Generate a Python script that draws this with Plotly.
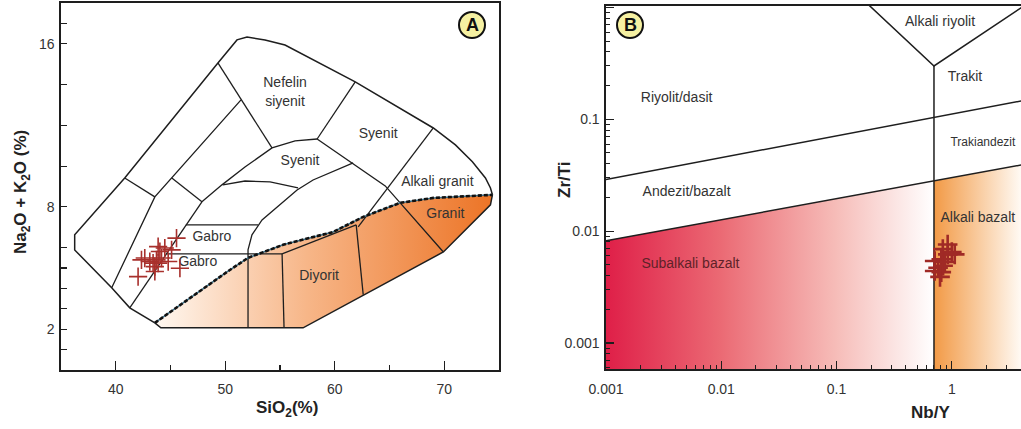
import plotly.graph_objects as go

# ================= Panel A : TAS diagram (SiO2 %, Na2O+K2O %) =================
outer_si  = [49.33, 51.07, 51.99, 53.63, 55.46, 61.87, 69.00, 71.02, 72.57, 73.76, 74.22, 74.40, 74.22, 69.92, 57.11, 44.12, 43.57, 41.28, 39.63, 36.25, 36.25, 40.82, 49.33]
outer_alk = [15.06, 16.19, 16.33, 16.19, 15.94, 14.13, 11.87, 11.04, 10.21, 9.42, 8.93, 8.59, 8.10, 5.79, 2.07, 2.07, 2.31, 3.05, 4.03, 5.89, 6.63, 9.42, 15.06]

# alkaline / subalkaline divide (dashed)
divide_si  = [43.57, 46.50, 50.16, 52.08, 55.28, 59.85, 62.60, 65.98, 69.00, 74.40]
divide_alk = [2.31, 3.44, 4.81, 5.50, 6.14, 6.77, 7.51, 8.20, 8.44, 8.59]

# shaded subalkaline field outline (below divide)
sub_si  = divide_si + [74.22, 69.92, 57.11, 44.12, 43.57]
sub_alk = divide_alk + [8.10, 5.79, 2.07, 2.07, 2.31]

# inner field boundaries
b1_si, b1_alk = [40.82, 43.57], [9.42, 8.49]
b2_si, b2_alk = [51.44, 43.57, 39.63], [13.25, 8.49, 4.03]
b3_si, b3_alk = [45.12, 47.87], [9.42, 8.25]
b4_si, b4_alk = [47.87, 41.28], [8.25, 3.05]
b5_si, b5_alk = [49.33, 54.27], [15.06, 10.89]
b6_si, b6_alk = [47.87, 49.70, 51.80, 54.27, 56.38, 58.39], [8.25, 9.08, 9.96, 10.89, 11.24, 11.33]
b7_si, b7_alk = [49.79, 51.80, 54.09, 56.65], [9.08, 9.27, 9.23, 8.93]
b8_si, b8_alk = [58.39, 61.87], [11.33, 14.13]
b9_si, b9_alk = [69.00, 62.14], [11.87, 7.02]
b10_si, b10_alk = [58.39, 64.61, 69.92], [11.33, 9.03, 5.79]
b11_si = [61.68, 58.02, 56.56, 55.00, 53.36, 52.44, 52.08, 52.08]
b11_alk = [10.16, 9.32, 8.83, 8.10, 7.36, 6.63, 5.89, 2.07]
b12_si, b12_alk = [46.40, 52.99], [7.12, 7.12]
b13_si, b13_alk = [44.67, 55.19], [5.70, 5.70]
b14_si, b14_alk = [55.19, 55.37], [5.70, 2.07]
b15_si, b15_alk = [55.19, 61.96], [5.70, 7.12]
b16_si, b16_alk = [61.96, 62.60], [7.12, 3.69]

fieldA_names = ["Nefelin<br>siyenit", "Syenit", "Syenit", "Alkali granit", "Granit", "Diyorit", "Gabro", "Gabro"]
fieldA_si    = [55.46, 63.97, 56.83, 69.37, 70.10, 58.57, 48.78, 47.50]
fieldA_alk   = [13.59, 11.53, 10.21, 9.18, 7.61, 4.57, 6.48, 5.25]

sampleA_si  = [45.55, 43.87, 44.48, 45.10, 44.03, 44.18, 42.65, 42.35, 43.11, 43.72, 43.41, 43.87, 43.57, 43.57, 44.79, 45.86, 42.04]
sampleA_alk = [6.47, 6.05, 5.98, 5.89, 5.81, 5.49, 5.49, 5.40, 5.32, 5.40, 5.24, 5.24, 5.07, 4.83, 5.32, 4.99, 4.58]

A_yticks_major = [2, 8, 16]
A_yticks_minor = [1, 3, 4, 5, 6, 10, 12, 14, 17]
A_xticks_major = [40, 50, 60, 70]
A_xticks_minor = [45, 55, 65]

# ================= Panel B : Zr/Ti vs Nb/Y =================
lineB1_x, lineB1_y = [0.001, 4.0], [0.029, 0.146]
lineB2_x, lineB2_y = [0.001, 0.7, 4.0], [0.0082, 0.028, 0.039]
vertB_x, vertB_y = [0.7, 0.7], [0.0005, 0.3]
vB_x, vB_y = [0.18, 0.7, 4.5], [1.11, 0.3, 1.08]
subalk_x, subalk_y = [0.001, 0.001, 0.7, 0.7], [0.0005, 0.0082, 0.028, 0.0005]
alkbas_x, alkbas_y = [0.7, 0.7, 4.0, 4.0], [0.0005, 0.028, 0.039, 0.0005]

fieldB_names = ["Alkali riyolit", "Trakit", "Riyolit/dasit", "Andezit/bazalt", "Alkali bazalt"]
fieldB_x     = [0.79, 1.30, 0.0041, 0.0050, 1.68]
fieldB_y     = [0.73, 0.234, 0.155, 0.0223, 0.013]

sampleB_nby  = [0.835, 0.923, 1.0, 0.81, 0.71, 0.76, 0.71, 0.81, 0.79, 0.84, 0.87, 1.06, 0.92]
sampleB_zrti = [0.0069, 0.0062, 0.0065, 0.0056, 0.0054, 0.0047, 0.0044, 0.0043, 0.0039, 0.0049, 0.0053, 0.0062, 0.0076]

B_ticks = [0.001, 0.01, 0.1, 1]
B_ticklabels = ["0.001", "0.01", "0.1", "1"]
B_minor = [m * 10 ** e for e in range(-4, 1) for m in range(2, 10)]

FONT = "Arial, Liberation Sans, sans-serif"
TXT = "#333333"
LINE = "#1e1e1e"

W, H = 1021, 429
def px(xp):
    return xp / W
def py(yp):
    return (H - yp) / H

fig = go.Figure()

def add_line(x, y, xa="x", ya="y", w=1.4, color=LINE, dash=None):
    fig.add_trace(go.Scatter(x=x, y=y, xaxis=xa, yaxis=ya, mode="lines",
                             line=dict(color=color, width=w, dash=dash),
                             hoverinfo="skip", showlegend=False))

# ---- Panel A ----
fig.add_trace(go.Scatter(x=sub_si, y=sub_alk, xaxis="x", yaxis="y", mode="lines", fill="toself",
                         line=dict(width=0, color="rgba(0,0,0,0)"),
                         fillgradient=dict(type="horizontal",
                                           colorscale=[[0, "#fff8f1"], [0.45, "#f7b688"], [1, "#ec7426"]]),
                         hoverinfo="skip", showlegend=False))
for xs, ys in [(b1_si, b1_alk), (b2_si, b2_alk), (b3_si, b3_alk), (b4_si, b4_alk), (b5_si, b5_alk),
               (b6_si, b6_alk), (b7_si, b7_alk), (b8_si, b8_alk), (b9_si, b9_alk), (b10_si, b10_alk),
               (b11_si, b11_alk), (b12_si, b12_alk), (b13_si, b13_alk), (b14_si, b14_alk),
               (b15_si, b15_alk), (b16_si, b16_alk)]:
    add_line(xs, ys, w=1.3)
add_line(outer_si, outer_alk, w=1.5)
add_line(divide_si, divide_alk, w=1.5, color="#3c7088")
add_line(divide_si, divide_alk, w=2.6, color="#111111", dash="4px,2px")

fig.add_trace(go.Scatter(x=fieldA_si, y=fieldA_alk, xaxis="x", yaxis="y", mode="text",
                         text=fieldA_names, textfont=dict(family=FONT, size=14, color=TXT),
                         hoverinfo="skip", showlegend=False))
fig.add_trace(go.Scatter(x=sampleA_si, y=sampleA_alk, xaxis="x", yaxis="y", mode="markers",
                         marker=dict(symbol="cross-thin", size=13, line=dict(width=1.6, color="#a8302c")),
                         hoverinfo="skip", showlegend=False))

# ---- Panel B ----
fig.add_trace(go.Scatter(x=subalk_x, y=subalk_y, xaxis="x2", yaxis="y2", mode="lines", fill="toself",
                         line=dict(width=0, color="rgba(0,0,0,0)"),
                         fillgradient=dict(type="horizontal",
                                           colorscale=[[0, "#df1f48"], [0.35, "#eb6a74"], [0.7, "#f6bcb8"], [1, "#ffffff"]]),
                         hoverinfo="skip", showlegend=False))
fig.add_trace(go.Scatter(x=alkbas_x, y=alkbas_y, xaxis="x2", yaxis="y2", mode="lines", fill="toself",
                         line=dict(width=0, color="rgba(0,0,0,0)"),
                         fillgradient=dict(type="horizontal",
                                           colorscale=[[0, "#f29a46"], [1, "#fffaf4"]]),
                         hoverinfo="skip", showlegend=False))
add_line(lineB1_x, lineB1_y, "x2", "y2", w=1.5)
add_line(lineB2_x, lineB2_y, "x2", "y2", w=1.5)
add_line(vertB_x, vertB_y, "x2", "y2", w=1.5)
add_line(vB_x, vB_y, "x2", "y2", w=1.5)

fig.add_trace(go.Scatter(x=fieldB_x, y=fieldB_y, xaxis="x2", yaxis="y2", mode="text",
                         text=fieldB_names, textfont=dict(family=FONT, size=14, color=TXT),
                         hoverinfo="skip", showlegend=False))
fig.add_trace(go.Scatter(x=[1.86], y=[0.061], xaxis="x2", yaxis="y2", mode="text",
                         text=["Trakiandezit"], textfont=dict(family=FONT, size=12, color=TXT),
                         hoverinfo="skip", showlegend=False))
fig.add_trace(go.Scatter(x=[0.0054], y=[0.00506], xaxis="x2", yaxis="y2", mode="text",
                         text=["Subalkali bazalt"], textfont=dict(family=FONT, size=14, color="#5e2228"),
                         hoverinfo="skip", showlegend=False))
fig.add_trace(go.Scatter(x=sampleB_nby, y=sampleB_zrti, xaxis="x2", yaxis="y2", mode="markers",
                         marker=dict(symbol="cross-thin", size=14, line=dict(width=2.6, color="#a02a26")),
                         hoverinfo="skip", showlegend=False))

axfont = dict(family=FONT, size=14, color=TXT)
fig.update_layout(
    width=W, height=H, margin=dict(l=0, r=0, t=0, b=0, autoexpand=False),
    paper_bgcolor="white", plot_bgcolor="rgba(0,0,0,0)", showlegend=False,
    xaxis=dict(domain=[px(61), px(499)], range=[35, 75], showgrid=False, zeroline=False, automargin=False,
               showline=True, mirror=True, linecolor=LINE, linewidth=1.6,
               tickmode="array", tickvals=A_xticks_major, ticks="inside", ticklen=9, tickwidth=1.2,
               tickcolor=LINE, tickfont=axfont, ticklabelstandoff=6,
               minor=dict(tickmode="array", tickvals=A_xticks_minor, ticks="inside", ticklen=5,
                          tickwidth=1.2, tickcolor=LINE)),
    yaxis=dict(domain=[py(370), py(3)], range=[0, 18], showgrid=False, zeroline=False, automargin=False,
               showline=True, mirror=True, linecolor=LINE, linewidth=1.6,
               tickmode="array", tickvals=A_yticks_major, ticks="inside", ticklen=6, tickwidth=1.2,
               tickcolor=LINE, tickfont=axfont, ticklabelstandoff=2,
               minor=dict(tickmode="array", tickvals=A_yticks_minor, ticks="inside", ticklen=6,
                          tickwidth=1.2, tickcolor=LINE)),
    xaxis2=dict(domain=[px(606), 1.0], type="log", range=[-3, 0.6], anchor="y2", automargin=False,
                showgrid=False, zeroline=False, showline=True, mirror=True, linecolor=LINE, linewidth=1.6,
                tickmode="array", tickvals=B_ticks, ticktext=B_ticklabels, ticks="inside", ticklen=8,
                tickwidth=1.2, tickcolor=LINE, tickfont=axfont, ticklabelstandoff=7,
                minor=dict(tickmode="array", tickvals=B_minor, ticks="inside", ticklen=4,
                           tickwidth=1, tickcolor=LINE)),
    yaxis2=dict(domain=[py(369), py(6)], type="log", range=[-3.233, 0.013], anchor="x2", automargin=False,
                showgrid=False, zeroline=False, showline=True, mirror=False, linecolor=LINE, linewidth=1.6,
                tickmode="array", tickvals=B_ticks, ticktext=B_ticklabels, ticks="inside", ticklen=8,
                tickwidth=1.2, tickcolor=LINE, tickfont=axfont, ticklabelstandoff=2,
                minor=dict(tickmode="array", tickvals=B_minor, ticks="inside", ticklen=4,
                           tickwidth=1, tickcolor=LINE)),
)

title_font = dict(family=FONT, size=17, color="#222222")
def add_title(xp, yp, text, angle=0):
    fig.add_annotation(x=px(xp), y=py(yp), xref="paper", yref="paper", showarrow=False,
                       xanchor="center", yanchor="middle", text=text, textangle=angle, font=title_font)

add_title(22, 192, "<b>Na<sub>2</sub>O + K<sub>2</sub>O (%)</b>", -90)
add_title(287, 409, "<b>SiO<sub>2</sub>(%)</b>")
add_title(930, 412, "<b>Nb/Y</b>")
add_title(564, 180, "<b>Zr/Ti</b>", -90)

# panel badges
for cx, cy, lab in [(472, 25, "A"), (630, 25, "B")]:
    fig.add_shape(type="circle", xref="paper", yref="paper", xsizemode="pixel", ysizemode="pixel",
                  xanchor=px(cx), yanchor=py(cy), x0=-13, x1=13, y0=-13, y1=13,
                  fillcolor="#f6f1a2", line=dict(color="#111111", width=2))
    fig.add_annotation(x=px(cx), y=py(cy), xref="paper", yref="paper", showarrow=False,
                       xanchor="center", yanchor="middle",
                       text="<b>" + lab + "</b>", font=dict(family=FONT, size=18, color="#111111"))

# the page body has a default 8px margin; remove it so the figure sits at the window origin
fig.write_html("out.html", config={"displayModeBar": False, "staticPlot": True},
               post_script="document.body.style.margin='0';")
